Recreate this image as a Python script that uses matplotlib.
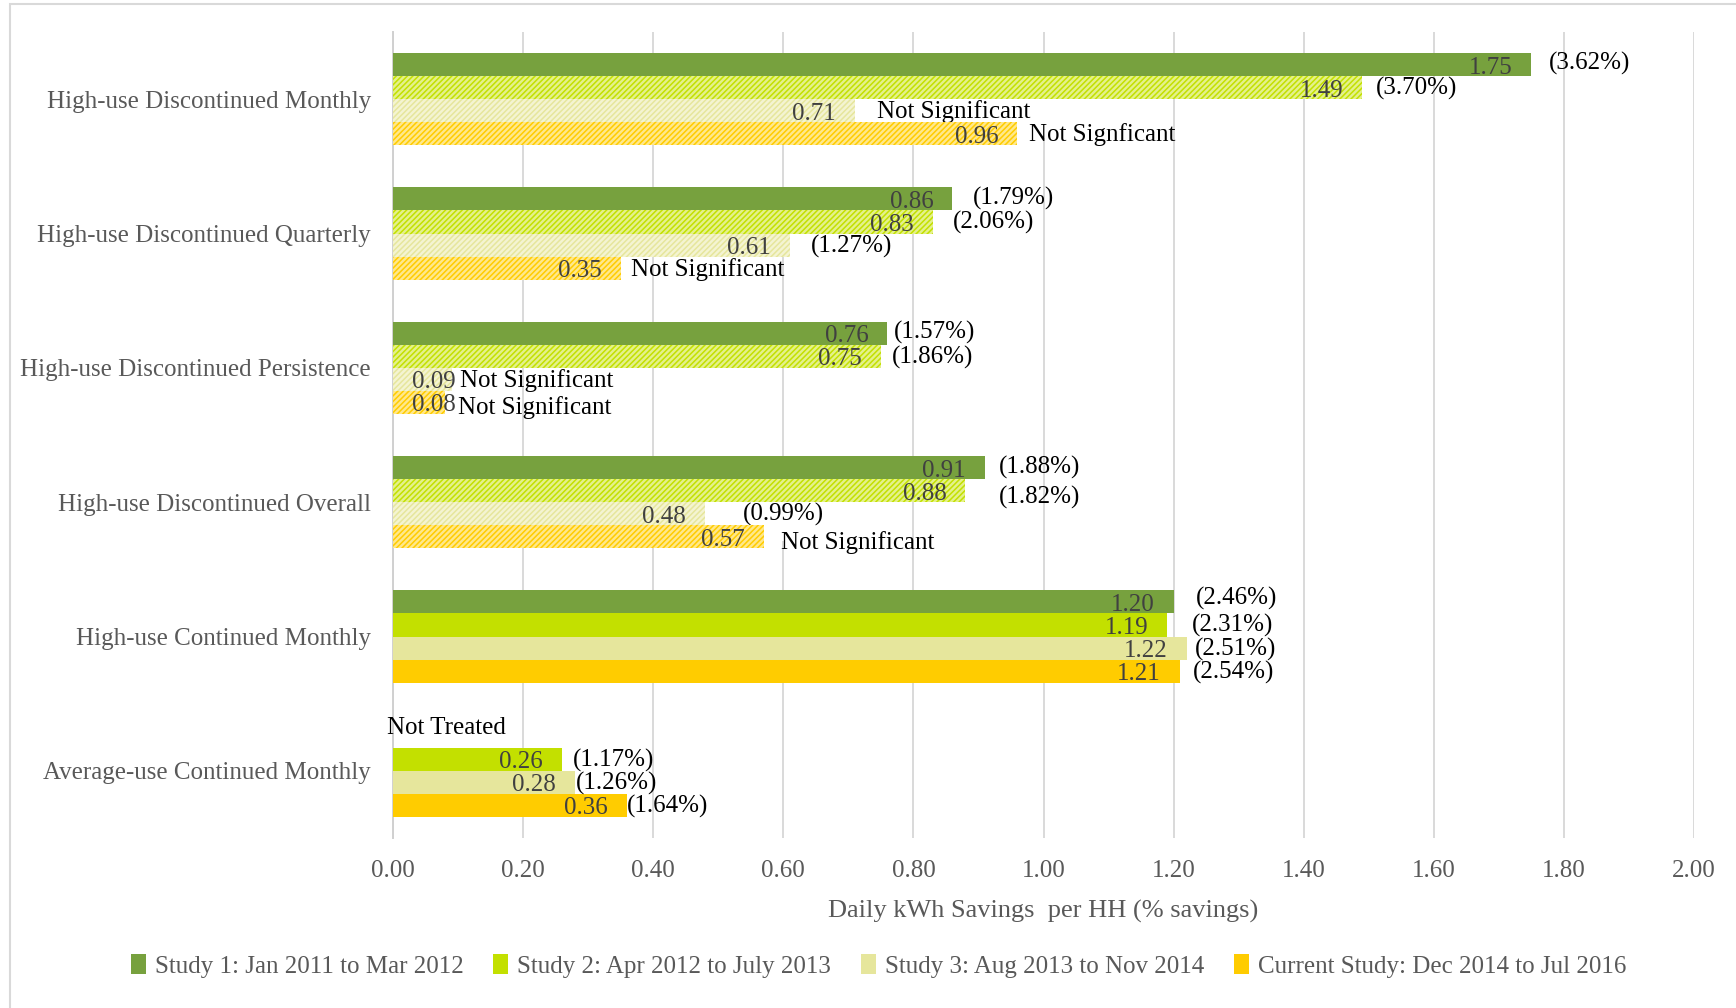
import matplotlib
matplotlib.use("Agg")
import matplotlib.pyplot as plt
from matplotlib.patches import Rectangle, Patch
import matplotlib.colors as mcolors
import numpy as np

# ---------------- data ----------------
categories = [
    "High-use Discontinued Monthly",
    "High-use Discontinued Quarterly",
    "High-use Discontinued Persistence",
    "High-use Discontinued Overall",
    "High-use Continued Monthly",
    "Average-use Continued Monthly",
]
series_names = [
    "Study 1: Jan 2011 to Mar 2012",
    "Study 2: Apr 2012 to July 2013",
    "Study 3: Aug 2013 to Nov 2014",
    "Current Study: Dec 2014 to Jul 2016",
]
study1 = [1.75, 0.86, 0.76, 0.91, 1.20, None]
study2 = [1.49, 0.83, 0.75, 0.88, 1.19, 0.26]
study3 = [0.71, 0.61, 0.09, 0.48, 1.22, 0.28]
current = [0.96, 0.35, 0.08, 0.57, 1.21, 0.36]

pct1 = ["(3.62%)", "(1.79%)", "(1.57%)", "(1.88%)", "(2.46%)", "Not Treated"]
pct2 = ["(3.70%)", "(2.06%)", "(1.86%)", "(1.82%)", "(2.31%)", "(1.17%)"]
pct3 = ["Not Significant", "(1.27%)", "Not Significant", "(0.99%)", "(2.51%)", "(1.26%)"]
pct4 = ["Not Signficant", "Not Significant", "Not Significant", "Not Significant", "(2.54%)", "(1.64%)"]

# ---------------- styles ----------------
colors = ["#77A13E", "#C3E000", "#E6E69C", "#FFCC00"]
pattern_rows = [True, True, True, True, False, False]  # discontinued groups use pattern fill
# label nudges (pixels) for the outside labels
label_dx = [
    [17, 20, 6, 14, 22, -6],
    [14, 20, 11, 33, 25, 11],
    [22, 21, 8, 38, 8, 1],
    [12, 10, 13, 17, 13, 0],
]
label_dy = [
    [1, 0, 1, 0, 3, 8],
    [-1, -1, -1, -7, -1, -1],
    [-1, -1, -1, -1, -1, -1],
    [-1, -1, -5, -6, -1, -1],
]
boxed = {(2, 0), (2, 3)}

FONT = ["Liberation Serif", "DejaVu Serif"]
FS = 18
GRAY = "#595959"

plt.rcParams["font.family"] = FONT
plt.rcParams["hatch.linewidth"] = 1.1

fig = plt.figure(figsize=(17.36, 10.08), dpi=100)
ax = fig.add_axes([393 / 1736, 1 - 838 / 1008, (1694 - 393) / 1736, (838 - 32) / 1008])

series = [study1, study2, study3, current]
pcts = [pct1, pct2, pct3, pct4]
bar_h = 0.172
ypos = np.arange(len(categories))


def lighten(c, f):
    r, g, b = mcolors.to_rgb(c)
    return (r + (1 - r) * f, g + (1 - g) * f, b + (1 - b) * f)


for i, vals in enumerate(series):
    for j, v in enumerate(vals):
        y = ypos[j] + (i - 1.5) * bar_h
        if v is None:
            ax.annotate(pcts[i][j], xy=(0, y), xytext=(label_dx[i][j], label_dy[i][j]),
                        textcoords="offset pixels", ha="left", va="center",
                        fontsize=FS, color="black", zorder=6)
            continue
        if pattern_rows[j] and i > 0:
            ax.barh(y, v, height=bar_h, facecolor=lighten(colors[i], 0.55),
                    edgecolor=colors[i], hatch="//////", linewidth=0, zorder=3)
        else:
            ax.barh(y, v, height=bar_h, color=colors[i], linewidth=0, zorder=3)
        # value label inside bar end
        ax.annotate(f"{v:.2f}", xy=(max(v, 0.125), y), xytext=(-19, -3),
                    textcoords="offset pixels", ha="right", va="center",
                    fontsize=FS, color="#404040", zorder=6)
        # outside label
        kw = {}
        z = 6
        if (i, j) in boxed:
            kw["bbox"] = dict(boxstyle="square,pad=0.6", facecolor="white", edgecolor="none")
            z = 2.5
        ax.annotate(pcts[i][j], xy=(v, y), xytext=(label_dx[i][j], label_dy[i][j]),
                    textcoords="offset pixels", ha="left", va="center",
                    fontsize=FS, color="black", zorder=z, **kw)

ax.set_xlim(0, 2.0)
ax.set_ylim(len(categories) - 0.5, -0.5)
ax.set_xticks(np.arange(0, 2.01, 0.2))
ax.set_xticklabels([f"{t:.2f}" for t in np.arange(0, 2.01, 0.2)])
ax.set_yticks(ypos)
ax.set_yticklabels(categories)
ax.tick_params(axis="both", length=0, labelsize=FS, labelcolor=GRAY)
ax.tick_params(axis="x", pad=16)
ax.tick_params(axis="y", pad=16)
ax.xaxis.grid(True, color="#D9D9D9", linewidth=1.4)
ax.set_axisbelow(True)
for s in ["top", "right", "bottom"]:
    ax.spines[s].set_visible(False)
ax.spines["left"].set_color("#D0D0D0")
ax.spines["left"].set_linewidth(1.4)
ax.set_xlabel("Daily kWh Savings  per HH (% savings)", fontsize=FS + 1, color=GRAY, labelpad=13)

handles = [Patch(facecolor=c, edgecolor="none") for c in colors]
fig.legend(handles, series_names, loc="center", bbox_to_anchor=(0.506, 0.042), ncol=4,
           frameon=False, fontsize=FS, labelcolor=GRAY, handlelength=0.6, handleheight=0.9,
           handletextpad=0.35, columnspacing=1.2)

fig.patches.append(Rectangle((10 / 1736, -0.1), 2, 1.1 - 4 / 1008, transform=fig.transFigure,
                             fill=False, edgecolor="#D9D9D9", linewidth=1.5))

fig.savefig("out.png", dpi=100, facecolor="white")
